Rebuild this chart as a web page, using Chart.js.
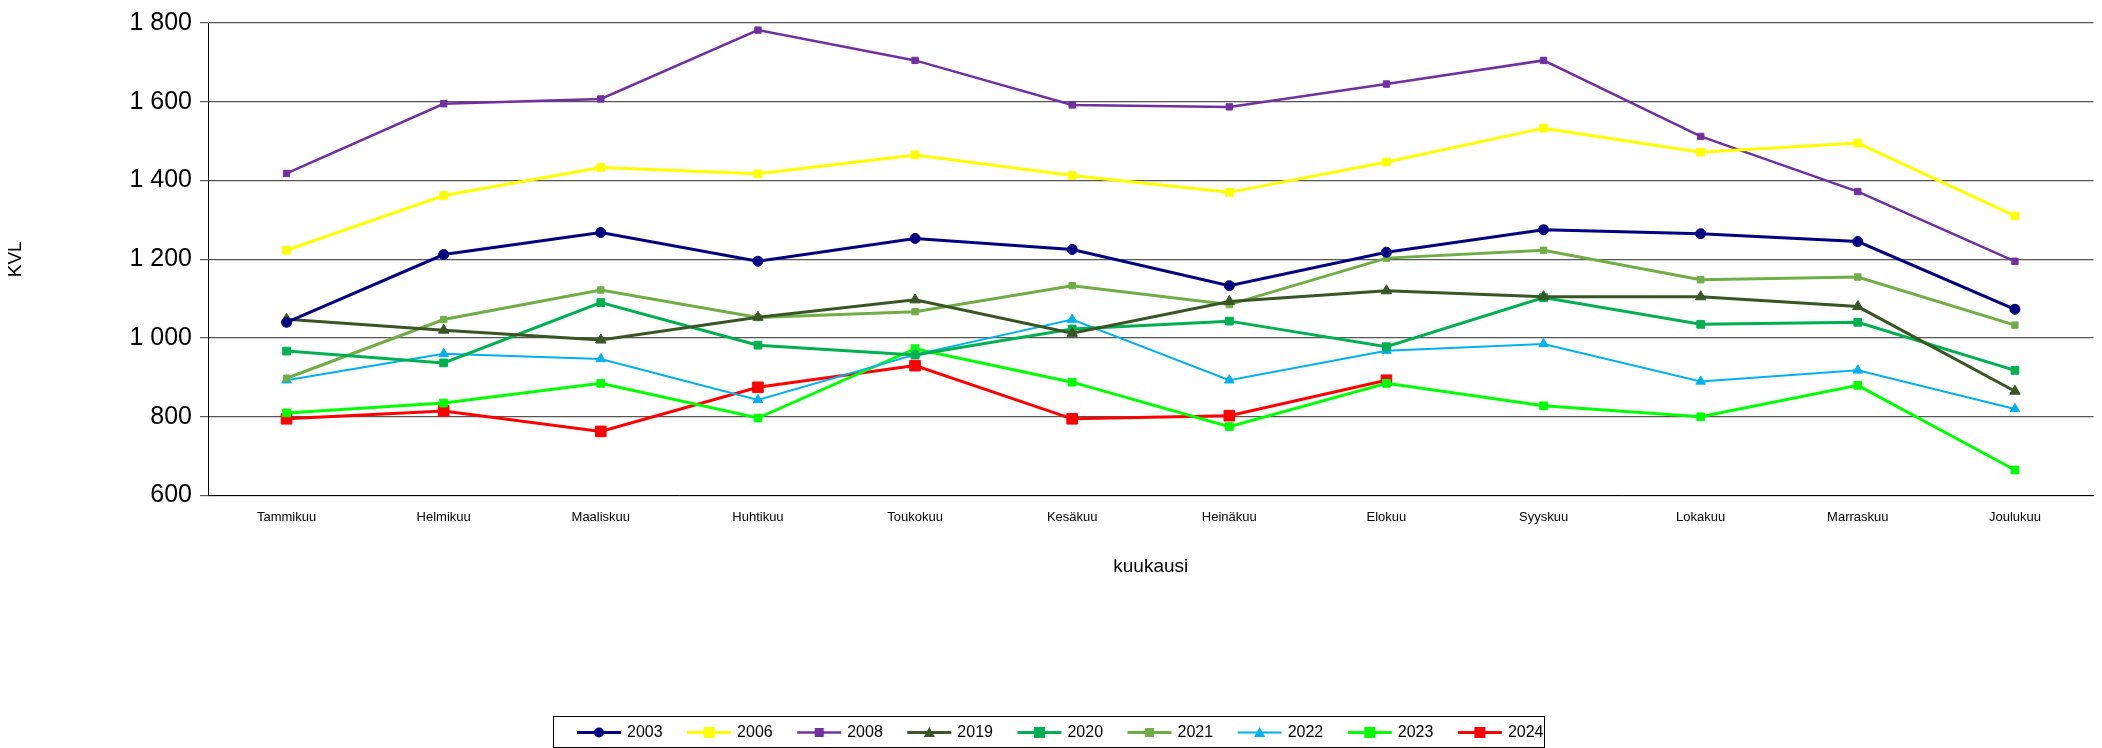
<!DOCTYPE html>
<html><head><meta charset="utf-8">
<script src="https://cdn.jsdelivr.net/npm/chart.js@4"></script>
<style>html,body{margin:0;padding:0;background:#fff}#w{width:2102px;height:748px}</style>
</head><body><div id="w"><canvas id="c"></canvas></div>
<script>
const months = ["Tammikuu","Helmikuu","Maaliskuu","Huhtikuu","Toukokuu","Kesäkuu","Heinäkuu","Elokuu","Syyskuu","Lokakuu","Marraskuu","Joulukuu"];
const yTicks = [600,800,1000,1200,1400,1600,1800];
const v2003 = [1040,1212,1268,1195,1253,1225,1133,1218,1275,1265,1245,1073];
const v2006 = [1223,1362,1433,1417,1465,1413,1370,1447,1533,1472,1495,1310];
const v2008 = [1418,1595,1607,1782,1705,1592,1587,1645,1705,1512,1372,1195];
const v2019 = [1048,1020,995,1053,1097,1012,1093,1120,1105,1105,1080,865];
const v2020 = [967,937,1090,982,957,1023,1043,978,1103,1035,1040,918];
const v2021 = [898,1047,1122,1052,1067,1133,1085,1203,1223,1148,1155,1033];
const v2022 = [893,960,947,843,958,1047,893,968,985,890,918,820];
const v2023 = [810,835,885,797,973,888,775,885,828,800,880,665];
const v2024 = [795,815,763,875,930,795,803,893,null,null,null,null];

function ds(label,data,color,style,r,bw){
  return {label,data,borderColor:color,backgroundColor:color,pointStyle:style,pointRadius:r,pointHoverRadius:r,borderWidth:bw,pointBorderWidth:1,tension:0,spanGaps:false};
}
const datasets=[
  ds("2003",v2003,"#000080","circle",5,3),
  ds("2006",v2006,"#FFFF00","rect",5.5,3),
  ds("2008",v2008,"#7030A0","rect",4.5,2.5),
  ds("2019",v2019,"#375623","triangle",6,3),
  ds("2020",v2020,"#00B050","rect",5.5,3),
  ds("2021",v2021,"#70AD47","rect",4.5,3),
  ds("2022",v2022,"#00B0F0","triangle",5.5,2),
  ds("2023",v2023,"#00FF00","rect",5.5,3),
  ds("2024",v2024,"#FF0000","rect",7.5,3)
];
const FONT="'Liberation Sans', Arial, sans-serif";
const legendPlugin={id:'lg',afterDraw(ch){
  const c=ch.ctx; const x0=553,y0=716,w=991,h=31;
  c.save(); c.strokeStyle='#000'; c.lineWidth=1; c.strokeRect(x0+0.5,y0+0.5,w,h);
  c.font='16px '+FONT; c.textBaseline='middle';
  const step=w/9;
  ch.data.datasets.forEach((d,i)=>{
    const lx=x0+24+i*step, ly=y0+h/2+1;
    c.strokeStyle=d.borderColor; c.lineWidth=d.borderWidth;
    c.beginPath(); c.moveTo(lx,ly); c.lineTo(lx+44,ly); c.stroke();
    c.fillStyle=d.backgroundColor; const r=Math.min(d.pointRadius,5.5), cx=lx+22;
    c.beginPath();
    if(d.pointStyle==='circle'){c.arc(cx,ly,r,0,Math.PI*2);}
    else if(d.pointStyle==='triangle'){c.moveTo(cx,ly-r);c.lineTo(cx+r,ly+r*0.8);c.lineTo(cx-r,ly+r*0.8);c.closePath();}
    else {c.rect(cx-r,ly-r,2*r,2*r);}
    c.fill();
    c.fillStyle='#000'; c.fillText(d.label,lx+50,ly);
  });
  c.restore();
}};
new Chart(document.getElementById('c'),{
  type:'line',
  data:{labels:months,datasets},
  plugins:[legendPlugin],
  options:{responsive:true,maintainAspectRatio:false,animation:false,
    layout:{padding:{top:11,right:4,bottom:166,left:0}},
    plugins:{legend:{display:false},tooltip:{enabled:false}},
    scales:{
      x:{offset:true,grid:{display:false,drawTicks:true},border:{color:'#000'},
        ticks:{color:'#000',font:{family:FONT,size:13},maxRotation:0,padding:6},
        title:{display:true,text:'kuukausi',color:'#000',font:{family:FONT,size:19},padding:{top:24}}},
      y:{min:600,max:1800,afterBuildTicks:s=>{s.ticks=yTicks.map(v=>({value:v}));},
        afterFit:s=>{s.width=208;},
        grid:{color:'#555',lineWidth:1.2,drawTicks:true,tickLength:8},border:{color:'#000'},
        ticks:{color:'#000',font:{family:FONT,size:25},padding:8,callback:v=>v>=1000?String(v).replace(/(\d)(\d{3})$/,'$1 $2'):String(v)},
        title:{display:true,text:'KVL',color:'#000',font:{family:FONT,size:19},padding:{bottom:40}}}
    }}
});
</script></body></html>
